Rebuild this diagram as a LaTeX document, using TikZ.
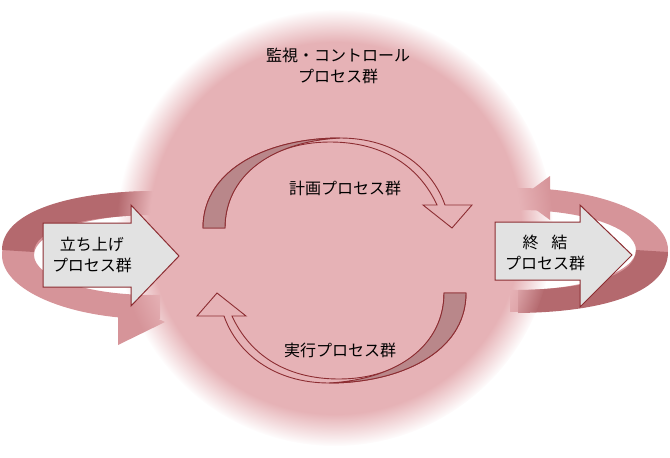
\documentclass[tikz,border=0pt]{standalone}
\usepackage{fontspec}
\setmainfont{Noto Sans CJK JP}
\usetikzlibrary{fadings}
\definecolor{bg}{RGB}{230,178,182}
\definecolor{edge}{RGB}{140,45,50}
\definecolor{shadow}{RGB}{185,135,138}
\definecolor{banddark}{RGB}{180,105,110}
\definecolor{bandlight}{RGB}{214,148,153}
\definecolor{boxgray}{RGB}{226,226,226}
\tikzset{
  lbl/.style={font=\fontsize{16}{21}\selectfont, align=center, text=black},
  cyc/.style={fill=bg, draw=edge, line width=0.9pt, line join=miter},
  blk/.style={fill=boxgray, draw=edge, line width=1pt}
}
\begin{document}
\begin{tikzpicture}[x=1pt,y=-1pt]
\useasboundingbox (0,0) rectangle (670,458);
% left band: ring, interior white
\begin{scope}
\clip (0,150) rectangle (160,360);
\fill[bandlight, even odd rule] (152,255) ellipse [x radius=150, y radius=64] (152,255) ellipse [x radius=118, y radius=40];
\fill[banddark] (2,250) .. controls (2,215) and (60,192) .. (152,191) -- (152,215) .. controls (80,216) and (34,230) .. (34,252) -- cycle;
\end{scope}
\fill[bandlight] (118,300) -- (165,322) -- (118,345) -- cycle;
% right band
\begin{scope}
\clip (510,150) rectangle (670,360);
\fill[bandlight, even odd rule] (518,250) ellipse [x radius=150, y radius=62] (518,250) ellipse [x radius=118, y radius=40];
\fill[banddark] (668,252) .. controls (668,290) and (610,312) .. (518,313) -- (518,290) .. controls (590,289) and (636,275) .. (636,250) -- cycle;
\end{scope}
\fill[bandlight] (550,176) -- (520,198) -- (550,220) -- cycle;
% glow circle
\fill[bg, path fading=circle with fuzzy edge 15 percent] (335,228) circle (218);
% top cycle arrow
\path[cyc] (203,228) .. controls (203,168) and (270,138) .. (340,138) .. controls (395,138) and (432,168) .. (445,205) -- (472,205) -- (452,228) -- (423,205) -- (437,205) .. controls (420,168) and (385,142) .. (330,142) .. controls (268,142) and (225,178) .. (225,228) -- cycle;
\path[fill=shadow, draw=edge, line width=0.9pt] (203,228) .. controls (203,168) and (270,138) .. (340,138) .. controls (268,142) and (225,178) .. (225,228) -- cycle;
% bottom cycle arrow (rotated)
\begin{scope}[rotate around={180:(334.5,260.5)}]
\path[cyc] (203,228) .. controls (203,168) and (270,138) .. (340,138) .. controls (395,138) and (432,168) .. (445,205) -- (472,205) -- (452,228) -- (423,205) -- (437,205) .. controls (420,168) and (385,142) .. (330,142) .. controls (268,142) and (225,178) .. (225,228) -- cycle;
\path[fill=shadow, draw=edge, line width=0.9pt] (203,228) .. controls (203,168) and (270,138) .. (340,138) .. controls (268,142) and (225,178) .. (225,228) -- cycle;
\end{scope}
% block arrows
\path[blk] (43,223) -- (131,223) -- (131,205) -- (179,256) -- (131,306) -- (131,287) -- (43,287) -- cycle;
\path[blk] (495,222) -- (580,222) -- (580,205) -- (632,255) -- (580,307) -- (580,280) -- (495,280) -- cycle;
% labels
\node[lbl] (mon) at (338,66) {監視・コントロール\\プロセス群};
\node[lbl] (plan) at (345,188) {計画プロセス群};
\node[lbl] (exec) at (340,350) {実行プロセス群};
\node[lbl] (init) at (92,255) {立ち上げ\\プロセス群};
\node[lbl] (close) at (545,253) {終\hspace{0.8em}結\\プロセス群};
\end{tikzpicture}
\end{document}
